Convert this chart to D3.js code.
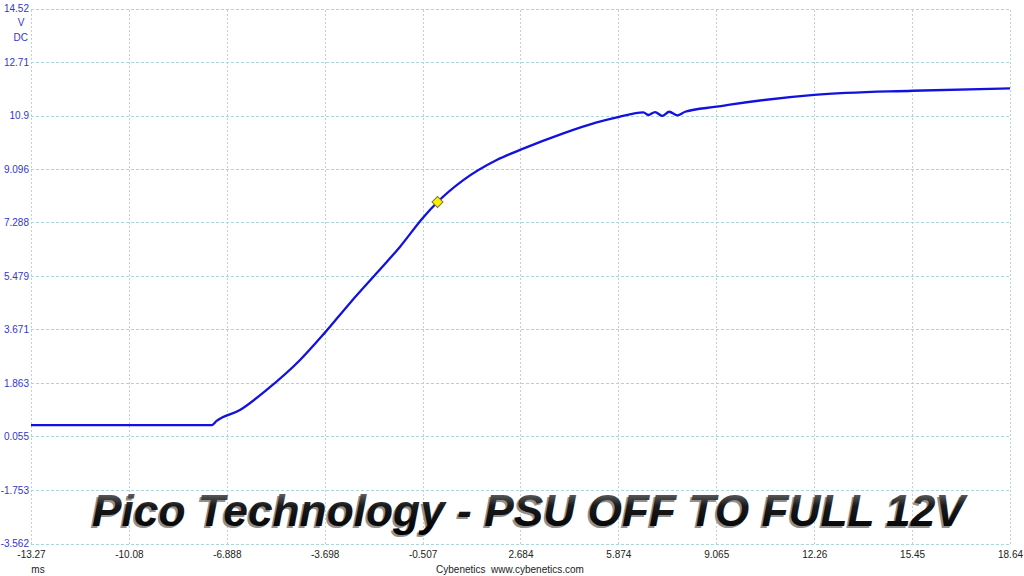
<!DOCTYPE html>
<html>
<head>
<meta charset="utf-8">
<script src="https://d3js.org/d3.v7.min.js"></script>
<style>
body { margin: 0; background: #fff; }
svg { display: block; font-family: "Liberation Sans", Arial, sans-serif; }
.grid line { shape-rendering: crispEdges; }
.grid path { display: none; }
.y.grid line { stroke: #a9d8dc; stroke-dasharray: 3,2; }
.x.grid line { stroke: #bdd2d8; stroke-dasharray: 2,2; }
.y.grid text { fill: #3535cc; font-size: 10px; }
.x.grid text { fill: #222; font-size: 10px; }
.trace { fill: none; stroke: #1212e0; stroke-width: 2.3; stroke-linejoin: round; }
</style>
</head>
<body>
<script>

// tick values and labels as printed by the scope
var xTicks = [-13.27, -10.08, -6.888, -3.698, -0.507, 2.684, 5.874, 9.065, 12.26, 15.45, 18.64];
var xLabels = ["-13.27", "-10.08", "-6.888", "-3.698", "-0.507", "2.684", "5.874", "9.065", "12.26", "15.45", "18.64"];
var yTicks = [14.52, 12.71, 10.9, 9.096, 7.288, 5.479, 3.671, 1.863, 0.055, -1.753, -3.562];
var yLabels = ["14.52", "12.71", "10.9", "9.096", "7.288", "5.479", "3.671", "1.863", "0.055", "-1.753", "-3.562"];

// trace (ms, V)
var timeMs = [-13.27, -10.0, -7.38, -7.22, -6.46, -5.59, -4.50, -3.71, -2.87, -2.00, -1.24, -0.50, -0.02,
              0.82, 1.91, 2.67, 4.08, 5.17, 5.90, 6.69, 6.85, 7.07, 7.31, 7.53, 7.80, 8.05, 9.08, 9.51, 12.26, 15.47, 18.64];
var volts  = [0.44, 0.44, 0.44, 0.58, 0.95, 1.63, 2.64, 3.54, 4.57, 5.58, 6.47, 7.44, 7.98,
              8.72, 9.40, 9.74, 10.30, 10.67, 10.86, 11.01, 10.92, 11.02, 10.89, 11.03, 10.91, 11.03, 11.20, 11.27, 11.60, 11.74, 11.82];

// trigger marker
var markerPoint = [-0.02, 7.98];

var W = 1024, H = 576;
var plotL = 31, plotR = 1010, plotT = 8.5, plotB = 543.5;

var svg = d3.select("body").append("svg")
    .attr("width", W)
    .attr("height", H);

var x = d3.scaleLinear().domain([xTicks[0], xTicks[xTicks.length - 1]]).range([plotL, plotR]);
var y = d3.scaleLinear().domain([yTicks[yTicks.length - 1], yTicks[0]]).range([plotB, plotT]);

svg.append("g")
    .attr("class", "x grid")
    .attr("transform", "translate(0," + plotB + ")")
    .call(d3.axisBottom(x)
        .tickValues(xTicks)
        .tickSizeInner(-(plotB - plotT))
        .tickSizeOuter(0)
        .tickPadding(7.5)
        .tickFormat(function(d, i) { return xLabels[i]; }));

svg.append("g")
    .attr("class", "y grid")
    .attr("transform", "translate(" + plotL + ",0)")
    .call(d3.axisLeft(y)
        .tickValues(yTicks)
        .tickSizeInner(-(plotR - plotL))
        .tickSizeOuter(0)
        .tickPadding(2)
        .tickFormat(function(d, i) { return yLabels[i]; }));

// unit labels
svg.append("text").attr("x", 21).attr("y", 26).attr("text-anchor", "middle")
    .attr("fill", "#3535cc").style("font-size", "10px").text("V");
svg.append("text").attr("x", 28).attr("y", 41).attr("text-anchor", "end")
    .attr("fill", "#3535cc").style("font-size", "10px").text("DC");
svg.append("text").attr("x", 38).attr("y", 573).attr("text-anchor", "middle")
    .attr("fill", "#222").style("font-size", "10px").text("ms");
svg.append("text").attr("x", 510).attr("y", 573).attr("text-anchor", "middle")
    .attr("fill", "#222").style("font-size", "10px").style("white-space", "pre")
    .text("Cybenetics  www.cybenetics.com");

// trace
var pts = timeMs.map(function(t, i) { return [t, volts[i]]; });
var line = d3.line()
    .x(function(d) { return x(d[0]); })
    .y(function(d) { return y(d[1]); })
    .curve(d3.curveMonotoneX);

svg.append("path")
    .datum(pts)
    .attr("class", "trace")
    .attr("d", line);

svg.append("path")
    .attr("d", d3.symbol().type(d3.symbolSquare).size(60)())
    .attr("transform", "translate(" + x(markerPoint[0]) + "," + y(markerPoint[1]) + ") rotate(45)")
    .attr("fill", "#ffee00")
    .attr("stroke", "#7a7a3a")
    .attr("stroke-width", 1);

// big title
var defs = svg.append("defs");
var grad = defs.append("linearGradient").attr("id", "metal")
    .attr("x1", 0).attr("y1", 0).attr("x2", 0).attr("y2", 1);
grad.append("stop").attr("offset", "0%").attr("stop-color", "#8a8a8a");
grad.append("stop").attr("offset", "40%").attr("stop-color", "#1a1a1a");
grad.append("stop").attr("offset", "100%").attr("stop-color", "#000");

var titleText = "Pico Technology - PSU OFF TO FULL 12V";
var tx = 92, ty = 526, targetW = 873;

var shadow = svg.append("text")
    .attr("x", tx - 2).attr("y", ty + 2)
    .attr("fill", "#909090")
    .style("font-weight", "bold").style("font-style", "italic")
    .style("font-size", "47px")
    .text(titleText);

var title = svg.append("text")
    .attr("x", tx).attr("y", ty)
    .attr("fill", "url(#metal)")
    .style("font-weight", "bold").style("font-style", "italic")
    .style("font-size", "47px")
    .text(titleText);

var fs = 47 * targetW / title.node().getComputedTextLength();
title.style("font-size", fs + "px");
shadow.style("font-size", fs + "px");

</script>
</body>
</html>
